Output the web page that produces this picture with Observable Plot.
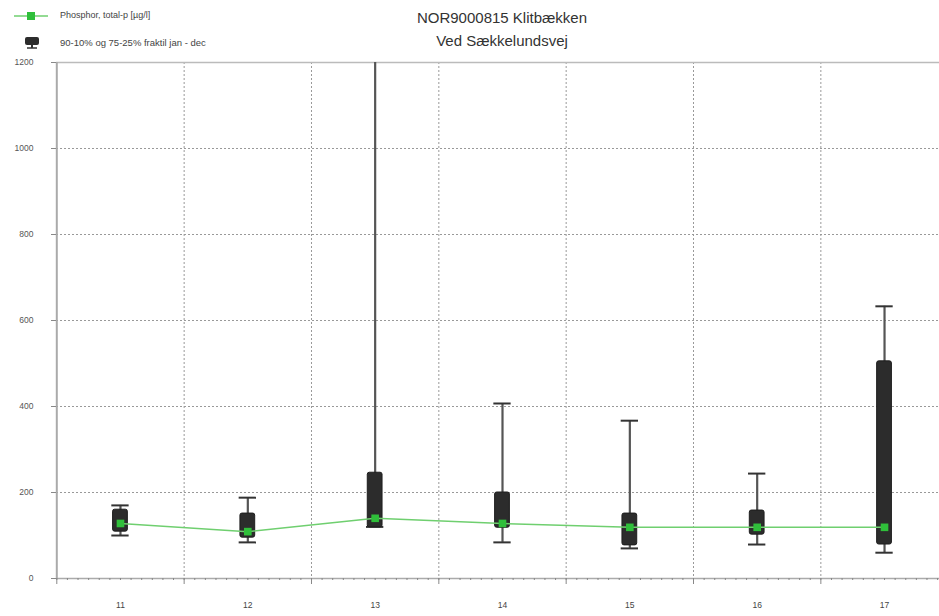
<!DOCTYPE html>
<html><head><meta charset="utf-8">
<script src="https://cdn.jsdelivr.net/npm/d3@7"></script>
<script src="https://cdn.jsdelivr.net/npm/@observablehq/plot@0.6"></script>
<style>
html,body{margin:0;padding:0;background:#fff;overflow:hidden;width:939px;height:616px;}
#wrap{position:relative;width:939px;height:616px;font-family:"Liberation Sans",Arial,sans-serif;}
#wrap svg{position:absolute;left:0;top:0;overflow:hidden;}
.title{position:absolute;left:0;width:1004px;text-align:center;font-size:15px;color:#333;}
.leg{position:absolute;font-size:9px;color:#444;}
</style></head>
<body><div id="wrap"></div>
<script>
const years   = [11, 12, 13, 14, 15, 16, 17];
const p10     = [100, 84, 120, 84, 70, 79, 60];
const p25     = [109, 95, 119, 118, 77, 102, 79];
const median  = [128, 109, 140, 128, 119, 119, 119];
const p75     = [160, 151, 246, 200, 151, 158, 505];
const p90     = [170, 188, 1300, 407, 367, 244, 633];
const yTicks  = [0, 200, 400, 600, 800, 1000, 1200];
const xLabels = ["11", "12", "13", "14", "15", "16", "17"];

const data = years.map((y, i) => ({year: y, p10: p10[i], p25: p25[i], med: median[i], p75: p75[i], p90: p90[i]}));
const boundaries = d3.range(years.length + 1).map(i => years[0] - 0.5 + i);
const months = d3.range(years.length * 12 + 1).map(i => years[0] - 0.5 + i / 12);
const hb = 0.058, hc = 0.068;

const chart = Plot.plot({
  width: 939, height: 616,
  marginTop: 62, marginBottom: 38, marginLeft: 56, marginRight: 0,
  style: {fontFamily: '"Liberation Sans", Arial, sans-serif', fontSize: "8px", color: "#555", background: "transparent"},
  x: {type: "linear", domain: [10.5, 17.5], range: [56.3, 947.7], label: null},
  y: {domain: [0, 1200], range: [578, 62], label: null},
  marks: [
    Plot.ruleY(yTicks.slice(1, -1), {stroke: "#999", strokeDasharray: "2,2", strokeWidth: 1}),
    Plot.ruleX(boundaries.slice(1), {stroke: "#999", strokeDasharray: "2,2", strokeWidth: 1}),
    Plot.ruleY([1200], {stroke: "#bbb", strokeWidth: 1.5}),
    Plot.ruleY([0], {stroke: "#aaa", strokeWidth: 1.5}),
    Plot.ruleX([10.5], {stroke: "#aaa", strokeWidth: 2}),
    Plot.axisY(yTicks, {tickSize: 5, tickPadding: 18, tickFormat: d => String(d), stroke: "#888", fill: "#555", fontSize: 8.5, label: null}),
    Plot.axisX(months, {tickSize: 2, tickFormat: () => "", stroke: "#888", label: null}),
    Plot.axisX(boundaries, {tickSize: 6, tickFormat: () => "", stroke: "#888", label: null}),
    Plot.axisX(years, {tickSize: 0, tickPadding: 23, tickFormat: (d, i) => xLabels[i], fill: "#444", fontSize: 8.5, label: null}),
    Plot.ruleX(data, {x: "year", y1: "p10", y2: "p90", stroke: "#555", strokeWidth: 2.2, clip: true}),
    Plot.ruleY(data.filter(d => d.p90 <= 1200), {y: "p90", x1: d => d.year - hc, x2: d => d.year + hc, stroke: "#333", strokeWidth: 2}),
    Plot.ruleY(data, {y: "p10", x1: d => d.year - hc, x2: d => d.year + hc, stroke: "#333", strokeWidth: 2}),
    Plot.rect(data, {x1: d => d.year - hb, x2: d => d.year + hb, y1: "p25", y2: "p75", fill: "#2c2c2c", stroke: "#1e1e1e", rx: 2}),
    Plot.line(data, {x: "year", y: "med", stroke: "#6fcf6f", strokeWidth: 1.5}),
    Plot.dot(data, {x: "year", y: "med", symbol: "square", r: 4.3, fill: "#2fbf3a", stroke: "none"})
  ]
});
const wrap = document.getElementById("wrap");
wrap.appendChild(chart);

wrap.insertAdjacentHTML("beforeend", `
<div class="title" style="top:9px">NOR9000815 Klitbækken</div>
<div class="title" style="top:32px">Ved Sækkelundsvej</div>
<svg width="60" height="60" style="left:0;top:0;overflow:visible">
  <line x1="14" y1="16" x2="48" y2="16" stroke="#6fcf6f" stroke-width="1.5"/>
  <rect x="27" y="12" width="8" height="8" fill="#2fbf3a"/>
  <rect x="25" y="37" width="14" height="8" rx="2" fill="#2c2c2c"/>
  <line x1="32" y1="45" x2="32" y2="48" stroke="#333" stroke-width="2"/>
  <line x1="27" y1="48" x2="37" y2="48" stroke="#333" stroke-width="1.5"/>
</svg>
<div class="leg" style="left:60px;top:10px">Phosphor, total-p [µg/l]</div>
<div class="leg" style="left:60px;top:37px;font-size:9.5px">90-10% og 75-25% fraktil jan - dec</div>
`);
</script>
</body></html>
